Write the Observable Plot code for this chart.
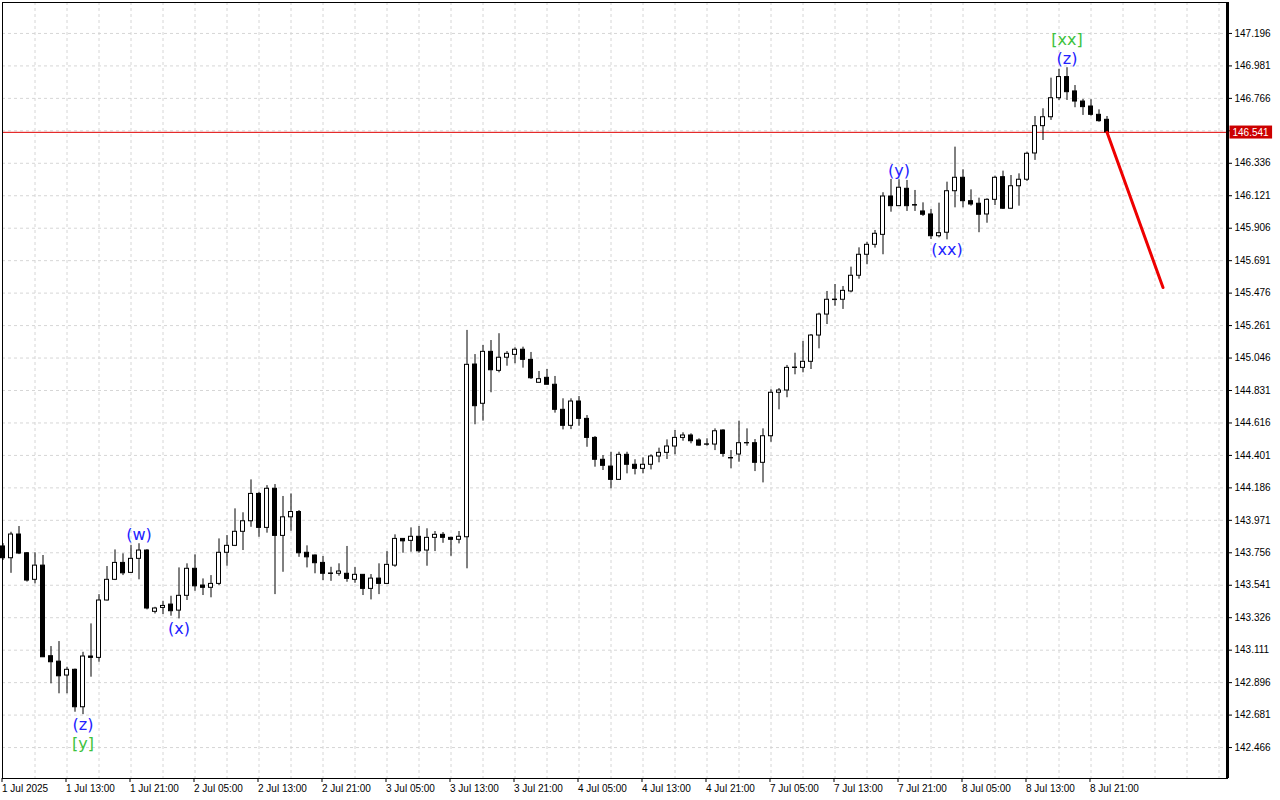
<!DOCTYPE html>
<html><head><meta charset="utf-8">
<script src="https://cdn.jsdelivr.net/npm/d3@7"></script>
<script src="https://cdn.jsdelivr.net/npm/@observablehq/plot@0.6"></script>
<style>body{margin:0;background:#fff;} svg{display:block}</style>
</head><body><div id="chart"></div>
<script>
// Hourly bars, index 0 = first bar on the chart
const opens = [143.798,143.720,143.877,143.753,143.577,143.671,143.071,143.035,142.943,142.981,
142.733,143.069,143.060,143.440,143.577,143.689,143.623,143.716,143.771,143.365,
143.391,143.413,143.373,143.471,143.650,143.539,143.524,143.550,143.756,143.802,
143.895,143.965,144.146,143.921,144.180,143.868,143.991,144.026,143.756,143.738,
143.689,143.619,143.617,143.617,143.577,143.610,143.517,143.585,143.550,143.671,
143.848,143.835,143.862,143.771,143.855,143.875,143.855,143.842,143.859,145.003,
144.743,145.087,144.961,145.048,145.067,145.101,145.034,144.882,144.915,144.869,
144.703,144.597,144.758,144.643,144.517,144.372,144.327,144.239,144.405,144.339,
144.312,144.339,144.394,144.418,144.460,144.517,144.533,144.500,144.474,144.473,
144.566,144.384,144.407,144.483,144.482,144.352,144.528,144.816,144.831,144.980,
144.981,145.021,145.195,145.334,145.430,145.432,145.487,145.591,145.730,145.796,
145.862,146.116,146.052,146.167,146.059,146.017,145.997,145.853,145.876,146.151,
146.240,146.085,146.068,145.997,146.094,146.244,146.035,146.184,146.227,146.401,
146.582,146.641,146.767,146.907,146.812,146.745,146.712,146.657,146.624];
const highs = [143.817,143.892,143.930,143.758,143.756,143.738,143.135,143.168,142.998,142.986,
143.097,143.285,143.479,143.665,143.775,143.749,143.804,143.816,143.777,143.395,
143.435,143.468,143.656,143.683,143.742,143.583,143.605,143.848,143.870,144.047,
144.021,144.239,144.157,144.201,144.208,144.129,144.146,144.036,143.802,143.742,
143.731,143.660,143.683,143.798,143.658,143.612,143.612,143.683,143.764,143.875,
143.850,143.921,143.930,143.915,143.897,143.890,143.859,143.897,145.229,145.069,
145.129,145.162,145.207,145.089,145.114,145.118,145.083,144.957,144.970,144.924,
144.776,144.776,144.791,144.665,144.526,144.400,144.422,144.422,144.422,144.372,
144.385,144.405,144.449,144.504,144.566,144.551,144.544,144.511,144.511,144.577,
144.571,144.433,144.628,144.577,144.506,144.577,144.836,144.844,144.997,145.078,
145.156,145.202,145.343,145.487,145.533,145.520,145.648,145.776,145.813,145.891,
146.141,146.229,146.227,146.222,146.156,146.074,146.030,146.072,146.211,146.443,
146.293,146.160,146.105,146.101,146.251,146.284,146.255,146.266,146.410,146.646,
146.697,146.900,146.958,146.969,146.851,146.759,146.757,146.690,146.646];
const lows = [143.705,143.620,143.744,143.562,143.550,143.062,142.888,142.822,142.822,142.700,
142.684,142.932,143.031,143.437,143.572,143.605,143.620,143.577,143.378,143.351,
143.347,143.336,143.318,143.440,143.501,143.473,143.458,143.539,143.667,143.797,
143.771,143.925,143.859,143.886,143.479,143.627,143.899,143.726,143.656,143.617,
143.572,143.567,143.601,143.561,143.554,143.473,143.444,143.479,143.546,143.660,
143.753,143.760,143.753,143.667,143.764,143.819,143.733,143.815,143.650,144.604,
144.628,144.816,144.948,144.992,145.008,144.979,144.904,144.881,144.868,144.681,
144.570,144.572,144.594,144.455,144.323,144.301,144.180,144.235,144.279,144.272,
144.279,144.305,144.352,144.374,144.405,144.495,144.478,144.462,144.462,144.433,
144.389,144.312,144.356,144.462,144.294,144.219,144.488,144.703,144.783,144.935,
144.948,144.970,145.107,145.268,145.389,145.368,145.478,145.568,145.664,145.774,
145.730,146.012,146.050,146.017,146.017,145.984,145.831,145.842,145.829,146.041,
146.041,146.052,145.876,145.939,146.056,146.030,146.030,146.052,146.215,146.355,
146.487,146.620,146.752,146.752,146.704,146.653,146.648,146.608,146.539];
const closes = [143.720,143.877,143.751,143.572,143.671,143.064,143.031,142.938,142.981,142.733,
143.069,143.060,143.440,143.577,143.689,143.620,143.716,143.771,143.387,143.387,
143.404,143.369,143.471,143.650,143.534,143.524,143.550,143.756,143.802,143.895,
143.965,144.146,143.921,144.180,143.868,143.991,144.026,143.753,143.726,143.687,
143.617,143.616,143.632,143.583,143.610,143.517,143.585,143.550,143.676,143.848,
143.832,143.862,143.766,143.855,143.875,143.855,143.842,143.862,145.001,144.727,
145.087,144.965,145.048,145.074,145.101,145.034,144.912,144.906,144.869,144.703,
144.597,144.758,144.643,144.517,144.372,144.332,144.239,144.405,144.339,144.312,
144.339,144.394,144.418,144.460,144.517,144.533,144.495,144.466,144.472,144.561,
144.411,144.381,144.482,144.481,144.352,144.528,144.816,144.831,144.981,144.983,
145.021,145.195,145.334,145.432,145.433,145.491,145.591,145.730,145.796,145.869,
146.116,146.052,146.174,146.052,146.056,145.995,145.853,145.873,146.151,146.240,
146.085,146.063,145.995,146.094,146.240,146.035,146.184,146.227,146.399,146.582,
146.641,146.767,146.907,146.807,146.745,146.708,146.657,146.615,146.541];

const timeLabels = ["1 Jul 2025","1 Jul 13:00","1 Jul 21:00","2 Jul 05:00","2 Jul 13:00","2 Jul 21:00",
"3 Jul 05:00","3 Jul 13:00","3 Jul 21:00","4 Jul 05:00","4 Jul 13:00","4 Jul 21:00",
"7 Jul 05:00","7 Jul 13:00","7 Jul 21:00","8 Jul 05:00","8 Jul 13:00","8 Jul 21:00"];
const priceTicks = [142.466,142.681,142.896,143.111,143.326,143.541,143.756,143.971,144.186,144.401,
144.616,144.831,145.046,145.261,145.476,145.691,145.906,146.121,146.336,146.551,146.766,146.981,147.196];
const currentPrice = 146.541;
const forecastBars = [138, 145];
const forecastPrices = [146.541, 145.513];

const waveBars = [17, 22, 10, 10, 112, 118, 133, 133];
const waveTexts = ["(w)", "(x)", "(z)", "[y]", "(y)", "(xx)", "(z)", "[xx]"];
const waveSides = ["high", "low", "low", "low", "high", "low", "high", "high"];
const waveLevels = [0, 0, 0, 1, 0, 0, 0, 1];

// ---- build
const candles = opens.map((o, i) => ({i, open: o, high: highs[i], low: lows[i], close: closes[i]}));
const forecast = forecastBars.map((b, k) => ({i: b, p: forecastPrices[k]}));
const waves = waveBars.map((b, k) => ({
  i: b, text: waveTexts[k], side: waveSides[k], level: waveLevels[k],
  p: waveSides[k] === "high" ? highs[b] : lows[b],
  color: waveTexts[k].startsWith("[") ? "#3cc23c" : "#2222ff"
}));
const tickBars = timeLabels.map((_, k) => k * 8);

const xLo = -0.0625, xHi = 153.0625;
const yLo = 142.261, yHi = 147.401;
const waveFont = {fontFamily: "DejaVu Sans", fontSize: 16};

const chart = Plot.plot({
  width: 1280, height: 800,
  marginLeft: 2, marginRight: 53, marginTop: 2, marginBottom: 22,
  x: {domain: [xLo, xHi], label: null},
  y: {domain: [yLo, yHi], label: null},
  style: {fontFamily: "Liberation Sans", fontSize: "10px", background: "white", color: "black"},
  marks: [
    Plot.ruleY(priceTicks, {stroke: "#d6d6d6", strokeDasharray: "3,3"}),
    Plot.ruleX(d3.range(4, xHi, 4), {stroke: "#d6d6d6", strokeDasharray: "3,3"}),
    Plot.ruleY([currentPrice], {stroke: "#e00000", strokeWidth: 1}),
    Plot.ruleX(candles, {x: "i", y1: "low", y2: "high", stroke: "black", strokeWidth: 1}),
    Plot.rect(candles, {
      x1: d => d.i - 0.25, x2: d => d.i + 0.25,
      y1: d => Math.min(d.open, d.close), y2: d => Math.max(d.open, d.close),
      fill: d => d.close >= d.open ? "white" : "black", stroke: "black", strokeWidth: 1
    }),
    Plot.line(forecast, {x: "i", y: "p", stroke: "#ee0000", strokeWidth: 3}),
    Plot.text(waves.filter(w => w.side === "high" && w.level === 0), {x: "i", y: "p", text: "text", fill: "color", dy: -9, ...waveFont}),
    Plot.text(waves.filter(w => w.side === "high" && w.level === 1), {x: "i", y: "p", text: "text", fill: "color", dy: -28, ...waveFont}),
    Plot.text(waves.filter(w => w.side === "low" && w.level === 0), {x: "i", y: "p", text: "text", fill: "color", dy: 10, ...waveFont}),
    Plot.text(waves.filter(w => w.side === "low" && w.level === 1), {x: "i", y: "p", text: "text", fill: "color", dy: 29, ...waveFont}),
    Plot.axisX({ticks: tickBars, tickFormat: d => timeLabels[d / 8], textAnchor: "start", tickSize: 4, tickPadding: 2, dx: -1, label: null}),
    Plot.axisY({anchor: "right", ticks: priceTicks, tickFormat: d => d.toFixed(3), tickSize: 4, tickPadding: 3, label: null}),
    Plot.frame({stroke: "black"}),
    Plot.ruleX([xHi], {stroke: "black", strokeWidth: 3}),
    Plot.text([currentPrice], {y: d => d, frameAnchor: "right", dx: 5, textAnchor: "start", fill: "white", text: d => d.toFixed(3), className: "pricetag"})
  ]
});
document.getElementById("chart").appendChild(chart);

// red background box behind the current price tag
d3.select(chart).selectAll("g.pricetag text").each(function () {
  const b = this.getBBox();
  const t = this.getAttribute("transform");
  const r = d3.select(this.parentNode).insert("rect", "text")
    .attr("x", b.x - 3).attr("y", b.y - 1)
    .attr("width", b.width + 6).attr("height", b.height + 2)
    .attr("fill", "#cc0000");
  if (t) r.attr("transform", t);
});
</script>
</body></html>
